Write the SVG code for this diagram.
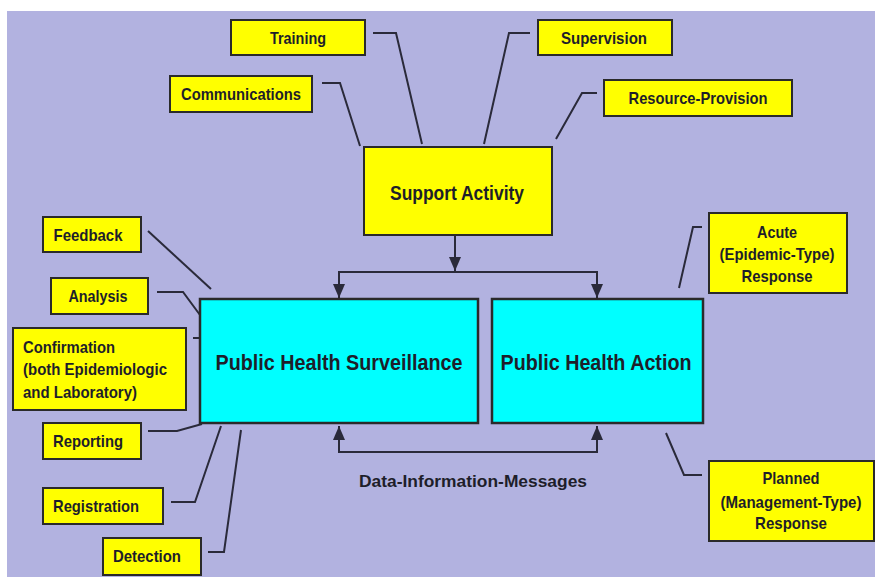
<svg xmlns="http://www.w3.org/2000/svg" width="875" height="577" viewBox="0 0 875 577">
<style>
.t{font-family:"Liberation Sans",Arial,sans-serif;font-weight:bold;fill:#1e1e2a;font-size:17px;text-anchor:middle}
.big{font-size:22px}
.mid{font-size:20px}
.y{fill:#ffff00;stroke:#2a2a2a;stroke-width:2}
.c{fill:#00ffff;stroke:#2a2a2a;stroke-width:2.5}
.ln{fill:none;stroke:#2a2a3a;stroke-width:2}
</style>
<defs>
<marker id="ah" markerUnits="userSpaceOnUse" markerWidth="14" markerHeight="12" refX="14" refY="6" orient="auto-start-reverse">
<path d="M0,0 L14,6 L0,12 z" fill="#2a2a3a"/>
</marker>
</defs>
<rect x="0" y="0" width="875" height="577" fill="#ffffff"/>
<rect x="7" y="11" width="868" height="566" fill="#b2b2e0"/>
<g id="connectors">
<path class="ln" d="M322,83 H340 L360,146"/>
<path class="ln" d="M373,33 H396 L422,144"/>
<path class="ln" d="M530,33 H509 L484,144"/>
<path class="ln" d="M597,93 H582 L556,139"/>
<path class="ln" d="M148,231 L211,289"/>
<path class="ln" d="M157,292 H183 L200,315"/>
<path class="ln" d="M193,338 H200"/>
<path class="ln" d="M148,431 H177 L202,424"/>
<path class="ln" d="M171,502 H195 L221,426"/>
<path class="ln" d="M208,552 H224 L241,430"/>
<path class="ln" d="M702,227 H693 L679,288"/>
<path class="ln" d="M666,433 L684,475 H702"/>
<path class="ln" d="M455,235 V271" marker-end="url(#ah)"/>
<path class="ln" d="M339,298 V272 H597 V298" marker-start="url(#ah)" marker-end="url(#ah)"/>
<path class="ln" d="M339,426 V452 H597 V426" marker-start="url(#ah)" marker-end="url(#ah)"/>
<text class="t" x="473" y="487" textLength="228" lengthAdjust="spacingAndGlyphs">Data-Information-Messages</text>
</g>
<g id="training"><rect class="y" x="231" y="20" width="134" height="35"/><text class="t" x="298" y="44" textLength="56" lengthAdjust="spacingAndGlyphs">Training</text></g>
<g id="supervision"><rect class="y" x="538" y="20" width="134" height="35"/><text class="t" x="604" y="44" textLength="86" lengthAdjust="spacingAndGlyphs">Supervision</text></g>
<g id="communications"><rect class="y" x="170" y="76" width="142" height="36"/><text class="t" x="241" y="100" textLength="120" lengthAdjust="spacingAndGlyphs">Communications</text></g>
<g id="resource-provision"><rect class="y" x="604" y="80" width="188" height="36"/><text class="t" x="698" y="104" textLength="139" lengthAdjust="spacingAndGlyphs">Resource-Provision</text></g>
<g id="support-activity"><rect class="y" x="364" y="147" width="188" height="88"/><text class="t mid" x="457" y="200" textLength="134" lengthAdjust="spacingAndGlyphs">Support Activity</text></g>
<g id="feedback"><rect class="y" x="43" y="217" width="98" height="35"/><text class="t" x="88" y="241" textLength="69" lengthAdjust="spacingAndGlyphs">Feedback</text></g>
<g id="analysis"><rect class="y" x="51" y="278" width="97" height="36"/><text class="t" x="98" y="302" textLength="59" lengthAdjust="spacingAndGlyphs">Analysis</text></g>
<g id="confirmation"><rect class="y" x="13" y="328" width="173" height="82"/>
<text class="t" x="69" y="353" textLength="92" lengthAdjust="spacingAndGlyphs">Confirmation</text>
<text class="t" x="95" y="375" textLength="144" lengthAdjust="spacingAndGlyphs">(both Epidemiologic</text>
<text class="t" x="80" y="398" textLength="114" lengthAdjust="spacingAndGlyphs">and Laboratory)</text></g>
<g id="reporting"><rect class="y" x="43" y="423" width="98" height="36"/><text class="t" x="88" y="447" textLength="70" lengthAdjust="spacingAndGlyphs">Reporting</text></g>
<g id="registration"><rect class="y" x="43" y="488" width="120" height="36"/><text class="t" x="96" y="512" textLength="86" lengthAdjust="spacingAndGlyphs">Registration</text></g>
<g id="detection"><rect class="y" x="103" y="538" width="98" height="37"/><text class="t" x="147" y="562" textLength="68" lengthAdjust="spacingAndGlyphs">Detection</text></g>
<g id="surveillance"><rect class="c" x="200" y="299" width="278" height="124"/><text class="t big" x="339" y="370" textLength="247" lengthAdjust="spacingAndGlyphs">Public Health Surveillance</text></g>
<g id="action"><rect class="c" x="492" y="299" width="211" height="124"/><text class="t big" x="596" y="370" textLength="191" lengthAdjust="spacingAndGlyphs">Public Health Action</text></g>
<g id="acute"><rect class="y" x="709" y="213" width="138" height="80"/>
<text class="t" x="777" y="238" textLength="40" lengthAdjust="spacingAndGlyphs">Acute</text>
<text class="t" x="777" y="260" textLength="115" lengthAdjust="spacingAndGlyphs">(Epidemic-Type)</text>
<text class="t" x="777" y="282" textLength="71" lengthAdjust="spacingAndGlyphs">Response</text></g>
<g id="planned"><rect class="y" x="709" y="461" width="165" height="80"/>
<text class="t" x="791" y="484" textLength="57" lengthAdjust="spacingAndGlyphs">Planned</text>
<text class="t" x="791" y="508" textLength="141" lengthAdjust="spacingAndGlyphs">(Management-Type)</text>
<text class="t" x="791" y="529" textLength="72" lengthAdjust="spacingAndGlyphs">Response</text></g>
</svg>
